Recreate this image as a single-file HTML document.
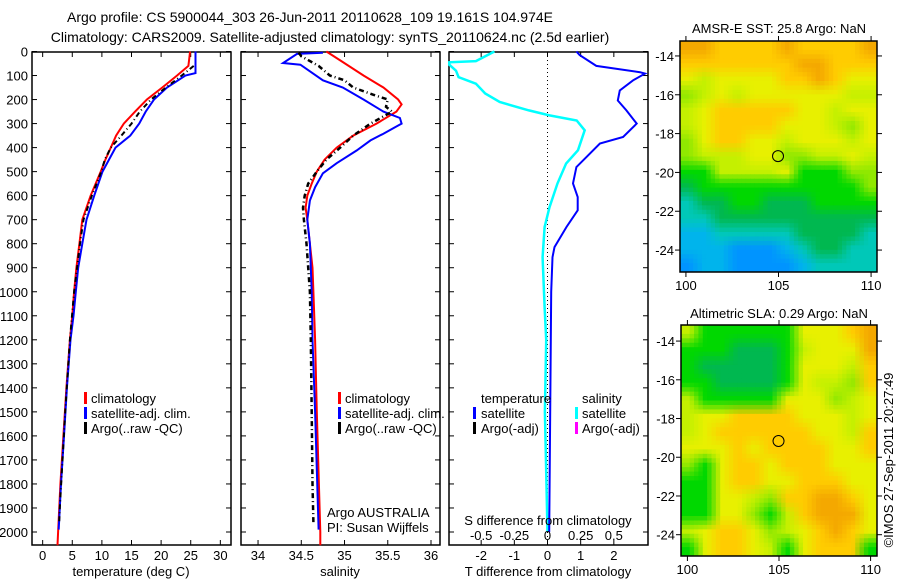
<!DOCTYPE html>
<html><head><meta charset="utf-8">
<style>
html,body{margin:0;padding:0;background:#fff;}
svg{display:block;font-family:"Liberation Sans",sans-serif;}
text{fill:#000;}
</style></head>
<body>
<svg id="chart" width="900" height="580" viewBox="0 0 900 580" xmlns="http://www.w3.org/2000/svg">
<text x="310" y="22" font-size="14" text-anchor="middle">Argo profile: CS 5900044_303 26-Jun-2011 20110628_109 19.161S 104.974E</text>
<text x="330" y="42" font-size="14" text-anchor="middle">Climatology: CARS2009. Satellite-adjusted climatology: synTS_20110624.nc (2.5d earlier)</text>
<text x="779" y="33" font-size="13" text-anchor="middle">AMSR-E SST: 25.8 Argo: NaN</text>
<text x="779" y="318" font-size="13" text-anchor="middle">Altimetric SLA: 0.29 Argo: NaN</text>
<text transform="translate(893,460) rotate(-90)" font-size="13" text-anchor="middle">©IMOS 27-Sep-2011 20:27:49</text>
<g id="layer"></g>
</svg>
<script>
// ---------- DATA ----------
const depthTicks = [0,100,200,300,400,500,600,700,800,900,1000,1100,1200,1300,1400,1500,1600,1700,1800,1900,2000];
const tempTicks = [0,5,10,15,20,25,30];
const salTicks = [34,34.5,35,35.5,36];
const salTickLabels = ["34","34.5","35","35.5","36"];
const tdiffTicks = [-2,-1,0,1,2];
const sdiffTickLabels = ["-0.5","-0.25","0","0.25","0.5"];
const sdiffTicks = [-0.5,-0.25,0,0.25,0.5];

const tClimDepth = [0,60,100,150,200,250,300,350,400,450,500,600,700,800,900,1000,1100,1200,1400,1600,1800,2000,2055];
const tClimVal   = [24.9,24.6,22.7,20.2,17.6,15.6,13.7,12.4,11.5,10.6,9.8,8.1,6.7,6.2,5.7,5.3,5.0,4.6,4.0,3.5,3.0,2.6,2.5];
const tSatDepth = [0,90,100,150,200,250,300,350,400,450,500,600,700,800,900,1000,1100,1200,1400,1600,1800,1990];
const tSatVal   = [25.8,25.8,24.1,21.0,18.8,17.4,16.3,14.8,12.3,11.2,10.1,8.7,7.4,6.7,6.0,5.6,5.2,4.7,4.1,3.6,3.1,2.7];
const tArgoDepth = [60,100,150,200,250,300,350,400,450,500,600,700,800,1000,1200,1500,1900,1960];
const tArgoVal   = [25.5,23.5,20.8,18.3,16.4,15.0,13.3,11.5,10.5,9.9,8.3,6.9,6.3,5.3,4.6,3.8,2.9,2.8];

const sClimDepth = [0,37,100,150,200,220,250,300,350,400,450,500,550,600,650,700,800,900,1000,1200,1500,2000,2055];
const sClimVal   = [34.79,34.95,35.22,35.45,35.62,35.66,35.60,35.37,35.10,34.91,34.77,34.68,34.62,34.57,34.55,34.57,34.60,34.63,34.64,34.66,34.68,34.72,34.72];
const sSatDepth = [5,10,48,55,120,150,200,250,277,300,342,370,412,465,507,565,620,673,700,800,1000,1200,1500,1990];
const sSatVal   = [34.75,34.45,34.29,34.49,34.75,34.98,35.22,35.45,35.64,35.66,35.45,35.30,35.14,34.91,34.75,34.66,34.60,34.58,34.57,34.60,34.62,34.63,34.66,34.70];
const sArgoDepth = [5,20,60,100,120,150,180,200,230,250,300,350,400,450,500,550,600,650,700,800,1000,1200,1500,1800,1960];
const sArgoVal   = [34.47,34.50,34.70,34.83,35.00,35.10,35.33,35.50,35.48,35.55,35.30,35.10,34.95,34.79,34.68,34.58,34.54,34.52,34.53,34.56,34.60,34.61,34.62,34.63,34.64];

const dTDepth = [0,15,60,86,92,120,162,204,245,300,356,383,440,481,549,606,661,731,814,856,1000,1200,1500,2000];
const dTVal   = [0.87,0.97,1.47,2.79,2.94,2.58,2.18,2.12,2.38,2.69,2.28,1.58,1.17,0.87,0.77,0.91,0.91,0.57,0.21,0.15,0.11,0.10,0.08,0.05];
const dSDepth = [0,40,45,55,80,107,134,175,210,245,266,287,328,411,466,549,648,731,856,1064,1200,1500,2000];
const dSVal   = [-0.40,-0.54,-0.74,-0.74,-0.69,-0.67,-0.54,-0.47,-0.36,-0.14,0.015,0.22,0.28,0.23,0.14,0.075,0.015,-0.022,-0.037,-0.022,-0.01,-0.02,0.0];

const sstRows = [
 "aabbbbabbbba","bbbbbbbaabbb","cdccccbbabcc","edcdccccccdd","dcbbbbbccdcc",
 "dcbbbbcccdec","ecbbccdcccdc","edddcceeddcd","ffddddcfffee","gffffffffffe",
 "hggffgggffff","hhgggggggggg","iihhhhhggggh","iiijjjihgghh","jiijjjjihhhh"];
const slaRows = [
 "dffffffcccba","fffgggfdccca","fgggggfcccdb","ffggggfcddeb","dfffffcccedc",
 "dccbbbbcccdc","dcbbbbbbccdb","cccbcbbbbccb","efcbbcbbbccc","ffcbbccbbbcc",
 "ffccdebbaabc","ffccefdbaaac","dcbbcedcbabc","fcbbcdfcbbbf"];
const mapPalette = {a:"#f4a800",b:"#ffcc00",c:"#e8f000",d:"#c4f000",e:"#90e800",f:"#00d800",g:"#00b850",h:"#00c8b8",i:"#00b4ec",j:"#0094ff"};
const lonTicks = [100,105,110];
const latTicks = [-14,-16,-18,-20,-22,-24];

// ---------- DRAW ----------
const NS="http://www.w3.org/2000/svg";
const layer=document.getElementById('layer');
function mk(tag,attrs,parent){const e=document.createElementNS(NS,tag);for(const k in attrs)e.setAttribute(k,attrs[k]);(parent||layer).appendChild(e);return e;}
const PT=52,PB=545;
function yD(d){return PT+d*(532-51.5)/2000-0.5;}

function panel(name,x0,x1,xmin,xmax){
  const g=mk('g',{});
  
  
  const sx=v=>x0+(v-xmin)/(xmax-xmin)*(x1-x0);
  return {g,sx,x0,x1};
}
function frame(p,xt,xl,showY){
  const r=mk('rect',{x:p.x0,y:PT,width:p.x1-p.x0,height:PB-PT,fill:'none',stroke:'#000','stroke-width':1.5},p.g);
  
  depthTicks.forEach(d=>{const y=yD(d);
    mk('line',{x1:p.x0,x2:p.x0+5,y1:y,y2:y,stroke:'#000'},p.g);
    mk('line',{x1:p.x1-5,x2:p.x1,y1:y,y2:y,stroke:'#000'},p.g);
    if(showY){const t=mk('text',{x:p.x0-4,y:y+5,'font-size':13,'text-anchor':'end'},p.g);t.textContent=d;
      }
  });
  xt.forEach((v,i)=>{const x=p.sx(v);
    mk('line',{x1:x,x2:x,y1:PB,y2:PB-5,stroke:'#000'},p.g);
    mk('line',{x1:x,x2:x,y1:PT,y2:PT+5,stroke:'#000'},p.g);
    if(xl){const t=mk('text',{x:x,y:560,'font-size':13,'text-anchor':'middle'},p.g);t.textContent=xl[i];
      }
  });
}
function line(p,depths,vals,color,w,dash,name){
  const pts=depths.map((d,i)=>p.sx(vals[i]).toFixed(1)+','+yD(d).toFixed(1)).join(' ');
  const e=mk('polyline',{points:pts,fill:'none',stroke:color,'stroke-width':w,'stroke-dasharray':dash||'none'},p.g);
  
}
function txt(p,x,y,s,name,size){const t=mk('text',{x:x,y:y,'font-size':size||13},p.g);t.textContent=s;
  return t;}
function legBar(p,x,y,color,name){const r=mk('rect',{x:x,y:y-11,width:3,height:12,fill:color},p.g);
  }
function axTitle(p,x,s){const t=mk('text',{x:x,y:576,'font-size':13,'text-anchor':'middle'},p.g);t.textContent=s;
  }

// panel 1 temperature
const p1=panel('temperature-panel',32,231,-1.8,31.8);
frame(p1,tempTicks,tempTicks.map(String),true);
line(p1,tClimDepth,tClimVal,'#ff0000',2,null,'temp-climatology-line');
line(p1,tSatDepth,tSatVal,'#0000ff',2,null,'temp-satellite-line');
line(p1,tArgoDepth,tArgoVal,'#000',2,'5 3 1 3','temp-argo-line');
axTitle(p1,131,'temperature (deg C)');
legBar(p1,84,403,'#ff0000','legend-swatch-climatology');txt(p1,91,403,'climatology','legend-climatology');
legBar(p1,84,418,'#0000ff','legend-swatch-satellite');txt(p1,91,418,'satellite-adj. clim.','legend-satellite');
legBar(p1,84,433,'#000','legend-swatch-argo');txt(p1,91,433,'Argo(..raw -QC)','legend-argo');

// panel 2 salinity
const p2=panel('salinity-panel',241,440,33.803,36.104);
frame(p2,salTicks,salTickLabels,false);
line(p2,sClimDepth,sClimVal,'#ff0000',2,null,'sal-climatology-line');
line(p2,sSatDepth,sSatVal,'#0000ff',2,null,'sal-satellite-line');
line(p2,sArgoDepth,sArgoVal,'#000',2.5,'5 3 1 3','sal-argo-line');
axTitle(p2,340,'salinity');
legBar(p2,338,403,'#ff0000','legend-swatch-climatology');txt(p2,345,403,'climatology','legend-climatology');
legBar(p2,338,418,'#0000ff','legend-swatch-satellite');txt(p2,345,418,'satellite-adj. clim.','legend-satellite');
legBar(p2,338,433,'#000','legend-swatch-argo');txt(p2,345,433,'Argo(..raw -QC)','legend-argo');
txt(p2,327,517,'Argo AUSTRALIA','argo-agency-note');
txt(p2,327,532,'PI: Susan Wijffels','pi-note');

// panel 3 differences
const p3=panel('difference-panel',449,648,-2.97,3.03);
frame(p3,tdiffTicks,tdiffTicks.map(String),false);
{const z=p3.sx(0);const e=mk('line',{x1:z,x2:z,y1:PT,y2:PB,stroke:'#000','stroke-dasharray':'1 3'},p3.g);}
line(p3,dSDepth,dSVal.map(v=>v*4),'#00ffff',2.5,null,'sal-diff-satellite-line');
line(p3,dTDepth,dTVal,'#0000ff',2,null,'temp-diff-satellite-line');
axTitle(p3,548,'T difference from climatology');
txt(p3,481,403,'temperature','legend-temperature-header');
txt(p3,582,403,'salinity','legend-salinity-header');
legBar(p3,473,418,'#0000ff','legend-swatch-t-satellite');txt(p3,481,418,'satellite','legend-t-satellite');
legBar(p3,473,433,'#000','legend-swatch-t-argo');txt(p3,481,433,'Argo(-adj)','legend-t-argo');
legBar(p3,575,418,'#00ffff','legend-swatch-s-satellite');txt(p3,582,418,'satellite','legend-s-satellite');
legBar(p3,575,433,'#ff00ff','legend-swatch-s-argo');txt(p3,582,433,'Argo(-adj)','legend-s-argo');
{const t=mk('text',{x:548,y:525,'font-size':13,'text-anchor':'middle'},p3.g);t.textContent='S difference from climatology';}
sdiffTicks.forEach((v,i)=>{const t=mk('text',{x:p3.sx(v*4),y:540,'font-size':13,'text-anchor':'middle'},p3.g);t.textContent=sdiffTickLabels[i];
  });

// maps (bilinear-smoothed colour grid rendered in ~4.4px blocks)
function hex2rgb(h){return [parseInt(h.substr(1,2),16),parseInt(h.substr(3,2),16),parseInt(h.substr(5,2),16)];}
function map(name,rows,x0,x1,y0,y1,lat0,lat1,lon0,lon1){
  const g=mk('g',{});
  
  const nr=rows.length,nc=rows[0].length;
  const grid=rows.map(r=>r.split('').map(ch=>hex2rgb(mapPalette[ch]||'#cccccc')));
  const sub=45,subr=52,cw=(x1-x0)/sub,ch=(y1-y0)/subr;
  for(let i=0;i<subr;i++){for(let j=0;j<sub;j++){
    const fy=Math.min(Math.max((i+0.5)/subr*nr-0.5,0),nr-1), fx=Math.min(Math.max((j+0.5)/sub*nc-0.5,0),nc-1);
    const i0=Math.floor(fy),j0=Math.floor(fx),i1=Math.min(i0+1,nr-1),j1=Math.min(j0+1,nc-1),ty=fy-i0,tx=fx-j0;
    const col=[0,1,2].map(k=>Math.round(grid[i0][j0][k]*(1-tx)*(1-ty)+grid[i0][j1][k]*tx*(1-ty)+grid[i1][j0][k]*(1-tx)*ty+grid[i1][j1][k]*tx*ty));
    const c=mk('rect',{x:(x0+j*cw).toFixed(2),y:(y0+i*ch).toFixed(2),width:(cw+0.5).toFixed(2),height:(ch+0.5).toFixed(2),fill:'rgb('+col.join(',')+')'},g);
    }}
  mk('rect',{x:x0,y:y0,width:x1-x0,height:y1-y0,fill:'none',stroke:'#000','stroke-width':1.5},g);
  const sx=v=>x0+(v-lon0)/(lon1-lon0)*(x1-x0), sy=v=>y0+(v-lat0)/(lat1-lat0)*(y1-y0);
  lonTicks.forEach(v=>{const x=sx(v);mk('line',{x1:x,x2:x,y1:y1,y2:y1+5,stroke:'#000'},g);mk('line',{x1:x,x2:x,y1:y0,y2:y0-5,stroke:'#000'},g);
    const t=mk('text',{x:x,y:y1+18,'font-size':13,'text-anchor':'middle'},g);t.textContent=v;});
  latTicks.forEach(v=>{const y=sy(v);mk('line',{x1:x0-5,x2:x0,y1:y,y2:y,stroke:'#000'},g);mk('line',{x1:x1,x2:x1+5,y1:y,y2:y,stroke:'#000'},g);
    const t=mk('text',{x:x0-6,y:y+5,'font-size':13,'text-anchor':'end'},g);t.textContent=v;});
  const c=mk('circle',{cx:sx(104.974),cy:sy(-19.161),r:5.5,fill:'none',stroke:'#000','stroke-width':1},g);
  
}
map('sst-map',sstRows,680,877,41,272,-13.23,-25.13,99.68,110.32);
map('sla-map',slaRows,681,877,325,556,-13.17,-25.1,99.65,110.35);
</script>
</body></html>
